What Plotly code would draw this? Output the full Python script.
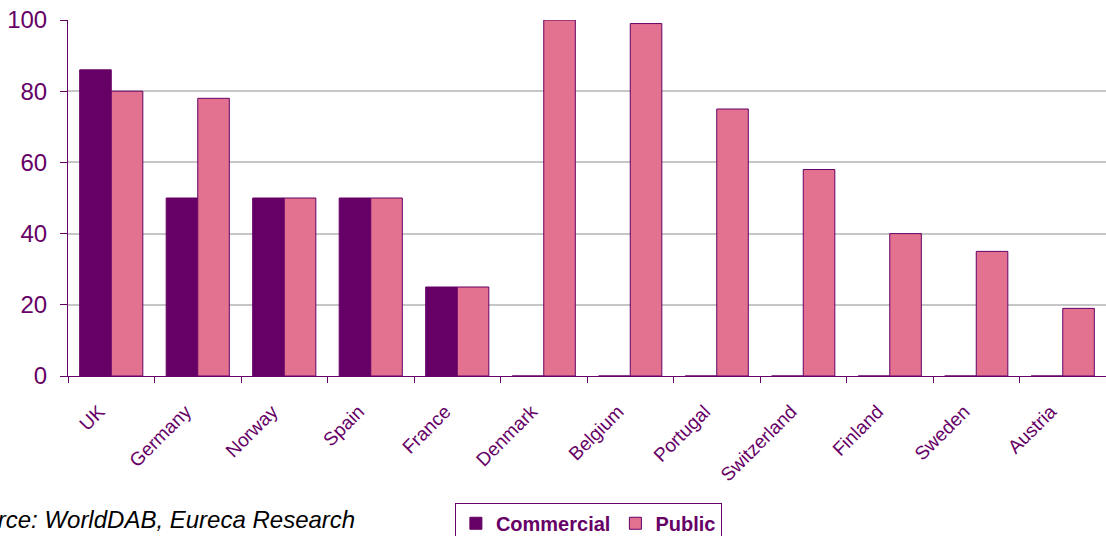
import plotly.graph_objects as go

countries = ["UK", "Germany", "Norway", "Spain", "France", "Denmark",
             "Belgium", "Portugal", "Switzerland", "Finland", "Sweden", "Austria"]
commercial = [86, 50, 50, 50, 25, 0, 0, 0, 0, 0, 0, 0]
public = [80, 78, 50, 50, 25, 100, 99, 75, 58, 40, 35, 19]
y_ticks = [0, 20, 40, 60, 80, 100]

PURPLE = "#660066"
PINK = "#E2728F"
FONT = "Arial, Liberation Sans, sans-serif"

fig = go.Figure()
fig.add_trace(go.Bar(
    name="Commercial", x=countries, y=commercial,
    marker=dict(color=PURPLE, line=dict(color=PURPLE, width=1)),
))
fig.add_trace(go.Bar(
    name="Public", x=countries, y=public,
    marker=dict(color=PINK, line=dict(color=PURPLE, width=1)),
))

fig.update_layout(
    width=1106, height=536,
    margin=dict(l=68, r=0, t=20, b=160, autoexpand=False),
    paper_bgcolor="white", plot_bgcolor="white",
    barmode="group", bargap=0.27, bargroupgap=0,
    font=dict(family=FONT, color=PURPLE),
    showlegend=True,
    legend=dict(
        orientation="h", xref="container", x=0.532, xanchor="center",
        yref="container", y=0.062, yanchor="top",
        font=dict(family=FONT, size=20, color=PURPLE, weight="bold"),
        bordercolor=PURPLE, borderwidth=1, bgcolor="white",
        itemwidth=30, traceorder="normal",
    ),
    xaxis=dict(
        range=[-0.5, 11.5], showline=True, linecolor=PURPLE, linewidth=1,
        ticks="outside", tickson="boundaries", ticklen=6, tickcolor=PURPLE,
        tickangle=-45, tickfont=dict(family=FONT, size=19, color=PURPLE),
        ticklabelstandoff=16, ticklabelshift=-12,
        showgrid=False, zeroline=False,
    ),
    yaxis=dict(
        range=[0, 100], tickvals=y_ticks, showline=True, linecolor=PURPLE,
        linewidth=1, ticks="outside", ticklen=7, tickcolor=PURPLE,
        tickfont=dict(family=FONT, size=24, color=PURPLE),
        ticklabelstandoff=8,
        showgrid=True, gridcolor="#C6C6C6", gridwidth=1.5, zeroline=False,
    ),
    annotations=[dict(
        text="Source: WorldDAB, Eureca Research", xref="paper", yref="paper",
        x=0.2784, y=-0.404, xanchor="right", yanchor="middle", showarrow=False,
        font=dict(family=FONT, size=24, color="black", style="italic"),
    )],
)

fig.write_html("out.html")
